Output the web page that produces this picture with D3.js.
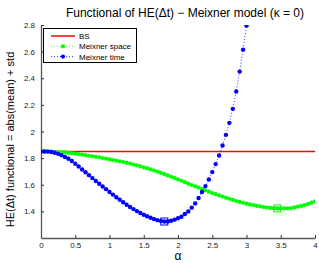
<!DOCTYPE html>
<html><head><meta charset="utf-8">
<script src="https://cdn.jsdelivr.net/npm/d3@7"></script>
<style>body{margin:0;background:#fff}svg{display:block;font-family:"Liberation Sans",Arial,sans-serif}</style>
</head><body><svg id="c" width="319" height="263"></svg>
<script>
const title = "Functional of HE(\u0394t) \u2212 Meixner model (\u03ba = 0)";
const yLabel = "HE(\u0394t) functional = abs(mean) + std";
const xLabel = "\u03b1";
const seriesNames = ["BS", "Meixner space", "Meixner time"];
const xTicks = [0, 0.5, 1, 1.5, 2, 2.5, 3, 3.5, 4];
const yTicks = [1.4, 1.6, 1.8, 2, 2.2, 2.4, 2.6, 2.8];
const bsValue = 1.85;
const alphaSpace = [0,0.05,0.1,0.15,0.2,0.25,0.3,0.35,0.4,0.45,0.5,0.55,0.6,0.65,0.7,0.75,0.8,0.85,0.9,0.95,1,1.05,1.1,1.15,1.2,1.25,1.3,1.35,1.4,1.45,1.5,1.55,1.6,1.65,1.7,1.75,1.8,1.85,1.9,1.95,2,2.05,2.1,2.15,2.2,2.25,2.3,2.35,2.4,2.45,2.5,2.55,2.6,2.65,2.7,2.75,2.8,2.85,2.9,2.95,3,3.05,3.1,3.15,3.2,3.25,3.3,3.35,3.4,3.45,3.5,3.55,3.6,3.65,3.7,3.75,3.8,3.85,3.9,3.95,4];
const meixnerSpace = [1.850,1.850,1.850,1.849,1.848,1.847,1.845,1.843,1.840,1.837,1.834,1.830,1.826,1.822,1.818,1.814,1.810,1.806,1.801,1.796,1.791,1.786,1.781,1.776,1.771,1.765,1.759,1.752,1.745,1.738,1.731,1.723,1.715,1.707,1.698,1.689,1.680,1.670,1.660,1.650,1.640,1.630,1.619,1.608,1.598,1.588,1.578,1.568,1.558,1.548,1.538,1.529,1.520,1.511,1.502,1.494,1.486,1.478,1.471,1.464,1.458,1.452,1.447,1.442,1.437,1.433,1.429,1.426,1.424,1.422,1.422,1.422,1.423,1.425,1.430,1.435,1.441,1.448,1.456,1.465,1.475];
const alphaTime = [0,0.05,0.1,0.15,0.2,0.25,0.3,0.35,0.4,0.45,0.5,0.55,0.6,0.65,0.7,0.75,0.8,0.85,0.9,0.95,1,1.05,1.1,1.15,1.2,1.25,1.3,1.35,1.4,1.45,1.5,1.55,1.6,1.65,1.7,1.75,1.8,1.85,1.9,1.95,2,2.05,2.1,2.15,2.2,2.25,2.3,2.35,2.4,2.45,2.5,2.55,2.6,2.65,2.7,2.75,2.8,2.85,2.9,2.95,3,3.05];
const meixnerTime = [1.850,1.850,1.849,1.846,1.840,1.832,1.822,1.809,1.795,1.778,1.758,1.737,1.715,1.694,1.672,1.650,1.628,1.607,1.587,1.567,1.546,1.526,1.506,1.487,1.468,1.450,1.433,1.417,1.402,1.388,1.375,1.363,1.352,1.342,1.334,1.328,1.324,1.324,1.330,1.338,1.348,1.360,1.380,1.400,1.428,1.460,1.500,1.545,1.590,1.640,1.695,1.755,1.820,1.895,1.975,2.065,2.170,2.300,2.450,2.615,2.795,2.990];
const minSpace = [3.45, 1.422];
const minTime = [1.80, 1.324];

const svg = d3.select("#c");
const L = 41, R = 315, T = 25, B = 238;
const x = d3.scaleLinear().domain([0, 4]).range([L, R]);
const y = d3.scaleLinear().domain([1.2, 2.8]).range([B, T]);

svg.append("defs").append("clipPath").attr("id","clip").append("rect")
  .attr("x", L).attr("y", T).attr("width", R - L).attr("height", B - T);

svg.append("text").attr("x", 185).attr("y", 17).attr("text-anchor","middle")
  .attr("font-size", 12).attr("fill","#000").text(title);
svg.append("text").attr("transform","translate(14,"+((T+B)/2+8)+") rotate(-90)")
  .attr("text-anchor","middle").attr("font-size", 11).text(yLabel);
svg.append("text").attr("x", (L+R)/2).attr("y", 260).attr("text-anchor","middle")
  .attr("font-size", 12).text(xLabel);

const xAxis = d3.axisBottom(x).tickValues(xTicks).tickSizeInner(-3).tickSizeOuter(0).tickPadding(4).tickFormat(d3.format("~g"));
const gx = svg.append("g").attr("transform","translate(0,"+B+")").call(xAxis);
const yAxis = d3.axisLeft(y).tickValues(yTicks).tickSizeInner(-3).tickSizeOuter(0).tickPadding(6).tickFormat(d3.format("~g"));
const gy = svg.append("g").attr("transform","translate("+L+",0)").call(yAxis);
[gx, gy].forEach(g => {
  g.selectAll("text").attr("font-size", 8).attr("fill","#222").attr("font-family","Liberation Sans, Arial, sans-serif");
  g.selectAll("line").attr("stroke","#333");
  g.select(".domain").attr("stroke","#555").attr("stroke-width",1.3);
});

const plot = svg.append("g").attr("clip-path","url(#clip)");
plot.append("line").attr("x1", x(0)).attr("x2", x(4)).attr("y1", y(bsValue)).attr("y2", y(bsValue))
  .attr("stroke","#ff0000").attr("stroke-width",1.5);

const line = d3.line().x(d => x(d[0])).y(d => y(d[1]));
const spaceData = alphaSpace.map((a,i) => [a, meixnerSpace[i]]);
const timeData = alphaTime.map((a,i) => [a, meixnerTime[i]]);

plot.append("path").datum(spaceData).attr("d", line).attr("fill","none")
  .attr("stroke","#00ff00").attr("stroke-width",0.8).attr("stroke-dasharray","1,2");
plot.selectAll(".gs").data(spaceData).enter().append("circle")
  .attr("cx", d => x(d[0])).attr("cy", d => y(d[1])).attr("r", 2.1).attr("fill","#00ff00");

plot.append("path").datum(timeData).attr("d", line).attr("fill","none")
  .attr("stroke","#0000ff").attr("stroke-width",0.8).attr("stroke-dasharray","1,2");
plot.selectAll(".bt").data(timeData).enter().append("circle")
  .attr("cx", d => x(d[0])).attr("cy", d => y(d[1])).attr("r", 2.2).attr("fill","#0000ff");

plot.append("rect").attr("x", x(minSpace[0])-3.5).attr("y", y(minSpace[1])-3.5).attr("width",7).attr("height",7)
  .attr("fill","none").attr("stroke","#00ff00").attr("stroke-width",1);
plot.append("rect").attr("x", x(minTime[0])-3.5).attr("y", y(minTime[1])-3.5).attr("width",7).attr("height",7)
  .attr("fill","none").attr("stroke","#0000ff").attr("stroke-width",1);

const lg = svg.append("g");
lg.append("rect").attr("x", 43.5).attr("y", 28.5).attr("width", 93).attr("height", 34)
  .attr("fill","#fff").attr("stroke","#000").attr("stroke-width",1);
const colors = ["#ff0000","#00ff00","#0000ff"];
seriesNames.forEach((n, i) => {
  const yy = 36 + i * 10.3;
  const ln = lg.append("line").attr("x1", 51).attr("x2", 75).attr("y1", yy).attr("y2", yy).attr("stroke", colors[i]);
  if (i === 0) ln.attr("stroke-width", 1.5);
  else {
    ln.attr("stroke-width", 0.8).attr("stroke-dasharray","1,2");
    lg.append("circle").attr("cx", 63).attr("cy", yy).attr("r", 2.1).attr("fill", colors[i]);
  }
  lg.append("text").attr("x", 79).attr("y", yy + 3).attr("font-size", 8).attr("fill","#000").text(n);
});
</script></body></html>
